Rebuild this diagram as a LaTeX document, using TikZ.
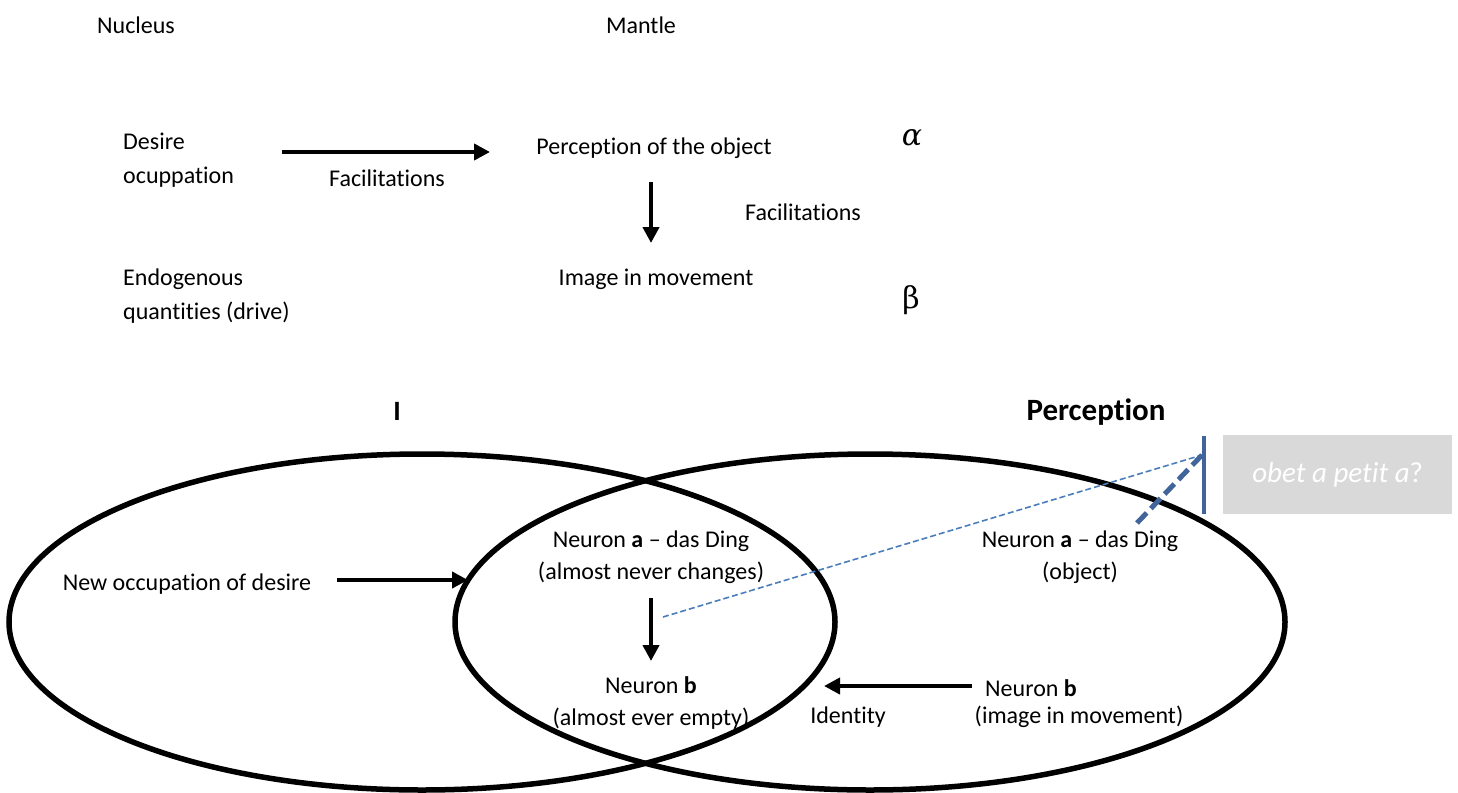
\documentclass[tikz,border=0pt]{standalone}
\usepackage{fontspec}
\setmainfont[Ligatures=NoCommon]{Carlito}
\newfontfamily\greekfont{DejaVu Serif}
\usetikzlibrary{arrows.meta,shapes.geometric}
\definecolor{dblue}{HTML}{41659A}
\definecolor{lblue}{HTML}{4A7EBB}
\definecolor{boxgray}{HTML}{D9D9D9}
\tikzset{
  txt/.style={font=\fontsize{24}{32}\selectfont, inner sep=0pt, align=center},
  txtl/.style={font=\fontsize{24}{34}\selectfont, inner sep=0pt, align=left, anchor=west},
  greek/.style={font=\greekfont\fontsize{30}{40}\selectfont, inner sep=0pt},
  big/.style={font=\fontsize{31}{36}\selectfont\bfseries, inner sep=0pt},
  arr/.style={line width=4pt, -{Triangle[length=16pt,width=16pt]}},
  ell/.style={line width=5.5pt, draw=black, ellipse, inner sep=0pt},
}
\begin{document}
\begin{tikzpicture}[x=1pt,y=-1pt]
\useasboundingbox (0,0) rectangle (1458,792);
% top
\node[txt] (nuc) at (136,25) {Nucleus};
\node[txt] (man) at (641,25) {Mantle};
\node[txtl] (des) at (123,160) {Desire\\ocuppation};
\node[txt] (fac1) at (387,178) {Facilitations};
\node[txt] (perc) at (654,148) {Perception of the object};
\node[greek] (alpha) at (912,138) {\itshape α};
\node[txt] (fac2) at (803,212) {Facilitations};
\node[txt] (img) at (656,279) {Image in movement};
\node[greek] (beta) at (911,300) {β};
\node[txtl] (endo) at (123,296) {Endogenous\\quantities (drive)};
\coordinate (a1s) at (282,152);
\coordinate (a1e) at (490,152);
\draw[arr] (a1s) -- (a1e);
\coordinate (a2s) at (651,182);
\coordinate (a2e) at (651,243);
\draw[arr] (a2s) -- (a2e);
% ellipses
\node[ell, minimum width=826pt, minimum height=336pt] (L) at (422,622) {};
\node[ell, minimum width=830pt, minimum height=336pt] (R) at (870,622) {};
\node[big, font=\fontsize{28}{30}\selectfont\bfseries] (I) at (397,411) {I};
\node[big] (percT) at (1096,412) {Perception};
% inner texts
\node[txt] (newocc) at (187,584) {New occupation of desire};
\coordinate (a3s) at (337,580);
\coordinate (a3e) at (468,580);
\draw[arr] (a3s) -- (a3e);
\node[txt] (na1) at (651,557) {Neuron \textbf{a} – das Ding\\(almost never changes)};
\coordinate (a4s) at (651,598);
\coordinate (a4e) at (651,661);
\draw[arr] (a4s) -- (a4e);
\node[txt] (nb1) at (651,703) {Neuron \textbf{b}\\(almost ever empty)};
\node[txt] (na2) at (1080,557) {Neuron \textbf{a} – das Ding\\(object)};
\node[txtl] (nb2t) at (985,688) {Neuron \textbf{b}};
\node[txt] (nb2) at (1079,717) {(image in movement)};
\coordinate (a5s) at (972,686);
\coordinate (a5e) at (824,686);
\draw[arr] (a5s) -- (a5e);
\node[txt] (ident) at (848,717) {Identity};
% blue lines
\coordinate (vtop) at (1204,436);
\coordinate (vbot) at (1204,514);
\draw[dblue, line width=4pt] (vtop) -- (vbot);
\coordinate (ptip) at (1202,455);
\coordinate (thickend) at (1137,523);
\coordinate (thinend) at (663,617);
\draw[lblue, line width=1.6pt, dash pattern=on 6pt off 3pt] (thinend) -- (ptip);
\draw[dblue, line width=5pt, dash pattern=on 14pt off 6pt] (thickend) -- (ptip);
% gray box
\node[fill=boxgray, minimum width=229pt, minimum height=79pt, inner sep=0pt, anchor=north west, font=\fontsize{29}{32}\selectfont, text=white] (obj) at (1223,435) {\textit{obet a petit a}?};
\end{tikzpicture}
\end{document}
